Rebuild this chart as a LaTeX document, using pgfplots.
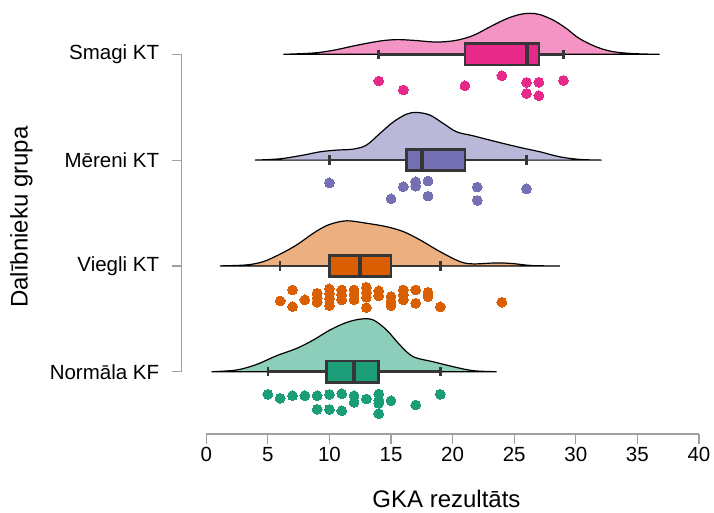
\documentclass[border=0pt]{standalone}
\usepackage{fontspec}
\setmainfont{Liberation Sans}
\usepackage{pgfplots}
\pgfplotsset{compat=1.18}
\usepgfplotslibrary{statistics}
\definecolor{cA}{HTML}{E7298A}\definecolor{cAl}{HTML}{F394C4}
\definecolor{cB}{HTML}{7570B3}\definecolor{cBl}{HTML}{BAB8D9}
\definecolor{cC}{HTML}{D95F02}\definecolor{cCl}{HTML}{ECAF80}
\definecolor{cD}{HTML}{1B9E77}\definecolor{cDl}{HTML}{8DCEBB}
\definecolor{boxgray}{HTML}{363636}
\definecolor{axgray}{HTML}{A0A0A0}
\begin{document}
\begin{tikzpicture}
\useasboundingbox (0,0) rectangle (714pt,512pt);
\begin{axis}[
  at={(181.66pt,78pt)}, anchor=south west,
  scale only axis, width=517.3pt, height=424pt,
  xmin=-2, xmax=40, ymin=0.411, ymax=4.419,
  clip=false,
  axis x line*=bottom, axis y line*=left,
  axis line style={draw=none},
  xtick={0,5,...,40}, ytick={1,2,3,4},
  yticklabels={Normāla KF,Viegli KT,Mēreni KT,Smagi KT},
  tick align=outside, major tick length=10pt,
  tick style={axgray, line width=1.2pt},
  /pgf/number format/assume math mode=true,
  tick label style={font=\fontsize{20.5}{24}\selectfont, black},
  yticklabel style={xshift=-9pt},
  xlabel={GKA rezultāts},
  ylabel={Dalībnieku grupa},
  label style={font=\fontsize{24}{28}\selectfont, inner sep=0pt},
  xlabel style={at={(axis description cs:0.5119,0)}, anchor=base, yshift=-73pt},
  ylabel style={at={(axis description cs:0,0.5117)}, anchor=base, yshift=154pt},
  boxplot/every median/.style={line width=4pt},
]
% axis lines
\draw[axgray, line width=1.2pt] (axis cs:0,0.411) -- (axis cs:40,0.411);
\draw[axgray, line width=1.2pt] (axis cs:-2,1) -- (axis cs:-2,4);

% ---------- Smagi KT ----------
\addplot[fill=cAl, draw=black, line width=1.2pt, smooth, tension=0.55]
  table[x=x, y expr=4+\thisrow{h}/105.8] {
x h
6.25 0
8.69 1.3
10.3 4
12.2 9
14.1 13.3
15.45 14.7
16.8 14
18.7 12.3
20.3 14
21.7 19
23.0 27.3
24.4 35.7
25.5 40
26.3 41
27.1 39.7
28.2 34
29.25 25.7
30.3 15.7
31.7 7.3
33.0 2.7
34.7 0.7
36.8 0
} -- cycle;
\addplot[boxplot prepared={draw position=4, lower whisker=14, lower quartile=21,
  median=26, upper quartile=27, upper whisker=29, box extend=0.2, whisker extend=0.09},
  fill=cA, draw=boxgray, line width=2.5pt, solid] coordinates {};
\addplot[only marks, mark=*, mark size=4.9pt, color=cA, mark options={line width=0pt}] coordinates {
(14,3.748) (16,3.663) (21,3.703) (24,3.798) (26,3.735) (27,3.735) (29,3.754) (26,3.631) (27,3.609)};

% ---------- Mereni KT ----------
\addplot[fill=cBl, draw=black, line width=1.2pt, smooth, tension=0.55]
  table[x=x, y expr=3+\thisrow{h}/105.8] {
x h
3.95 0
5.98 1.3
7.87 5
9.23 8.3
10.58 10
11.93 11
13.0 15
14.1 26.7
15.2 38.3
16.27 46
17.08 47.7
18.16 45
19.24 36.7
20.32 28.3
21.67 24.3
23.57 18.3
25.46 12.7
27.1 8.3
28.7 3.3
30.3 0.7
32.1 0
} -- cycle;
\addplot[boxplot prepared={draw position=3, lower whisker=10, lower quartile=16.25,
  median=17.5, upper quartile=21, upper whisker=26, box extend=0.2, whisker extend=0.09},
  fill=cB, draw=boxgray, line width=2.5pt, solid] coordinates {};
\addplot[only marks, mark=*, mark size=4.9pt, color=cB, mark options={line width=0pt}] coordinates {
(10,2.785) (16,2.748) (17,2.795) (17,2.754) (18,2.802) (15,2.634) (18,2.660) (22,2.745) (22,2.619) (26,2.729)};

% ---------- Viegli KT ----------
\addplot[fill=cCl, draw=black, line width=1.2pt, smooth, tension=0.55]
  table[x=x, y expr=2+\thisrow{h}/105.8] {
x h
1.11 0
3.28 1
4.63 4.3
5.98 11.7
7.34 21
8.69 32.7
9.77 40.3
10.85 44.3
11.66 45
13.0 42.7
14.6 39.3
16.0 34.3
17.35 26
18.97 14.3
20.6 4.3
21.67 2
23.57 3
24.9 2.3
26.5 0.3
28.7 0
} -- cycle;
\addplot[boxplot prepared={draw position=2, lower whisker=6, lower quartile=10,
  median=12.5, upper quartile=15, upper whisker=19, box extend=0.2, whisker extend=0.09},
  fill=cC, draw=boxgray, line width=2.5pt, solid] coordinates {};
\addplot[only marks, mark=*, mark size=4.9pt, color=cC, mark options={line width=0pt}] coordinates {
(6,1.669) (7,1.773) (7,1.615) (8,1.679) (9,1.742) (9,1.695) (9,1.657)
(10,1.783) (10,1.735) (10,1.688) (10,1.625) (11,1.773) (11,1.726) (11,1.679)
(12,1.773) (12,1.726) (12,1.679) (13,1.798) (13,1.751) (13,1.704) (13,1.606)
(14,1.764) (14,1.716) (15,1.710) (15,1.663) (15,1.625) (16,1.773) (16,1.726) (16,1.679)
(17,1.773) (17,1.647) (18,1.751) (18,1.710) (19,1.613) (24,1.657)};

% ---------- Normala KF ----------
\addplot[fill=cDl, draw=black, line width=1.2pt, smooth, tension=0.55]
  table[x=x, y expr=1+\thisrow{h}/105.8] {
x h
0.44 0
2.47 1.7
4.09 7.3
5.71 16
7.34 23.3
8.69 31.7
10.04 41.7
11.4 49.3
12.6 52.7
13.56 51.7
14.64 41.7
15.72 26.7
16.8 15
18.4 10
20.05 5
21.67 1
23.57 0
} -- cycle;
\addplot[boxplot prepared={draw position=1, lower whisker=5, lower quartile=9.75,
  median=12, upper quartile=14, upper whisker=19, box extend=0.2, whisker extend=0.09},
  fill=cD, draw=boxgray, line width=2.5pt, solid] coordinates {};
\addplot[only marks, mark=*, mark size=4.9pt, color=cD, mark options={line width=0pt}] coordinates {
(5,0.786) (6,0.748) (7,0.773) (8,0.773) (9,0.773) (9,0.644) (10,0.786) (10,0.644)
(11,0.792) (11,0.631) (12,0.773) (12,0.710) (13,0.742) (14,0.789) (14,0.732) (14,0.701)
(14,0.603) (15,0.726) (17,0.685) (19,0.786)};
\end{axis}
\end{tikzpicture}
\end{document}
